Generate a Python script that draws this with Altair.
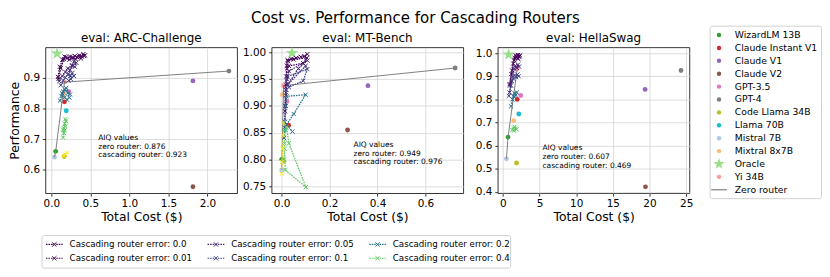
import altair as alt
import pandas as pd

# ---------------- data ----------------
MODELS = ["WizardLM 13B", "Claude Instant V1", "Claude V1", "Claude V2", "GPT-3.5", "GPT-4",
          "Code Llama 34B", "Llama 70B", "Mistral 7B", "Mixtral 8x7B", "Yi 34B"]
MODEL_COLORS = ["#2ca02c", "#d62728", "#9467bd", "#8c564b", "#e377c2", "#7f7f7f",
                "#bcbd22", "#17becf", "#aec7e8", "#ffbb78", "#ff9896"]
ORACLE_COLOR = "#98df8a"
ZERO_COLOR = "#7f7f7f"

ERRORS = ["0.0", "0.01", "0.05", "0.1", "0.2", "0.4", "0.8"]
ERROR_COLORS = ["#440154", "#46085c", "#482878", "#414487", "#2c728e", "#5ec962", "#fde725"]
LEGEND_ERRORS = ["0.0", "0.01", "0.05", "0.1", "0.2", "0.4"]

# ARC-Challenge
ARC_COST = [0.055, 0.168, 1.814, 1.814, 0.224, 2.275, 0.165, 0.19, 0.04, 0.16, 0.168]
ARC_PERF = [0.66, 0.821, 0.889, 0.545, 0.854, 0.921, 0.643, 0.792, 0.641, 0.848, 0.885]
ARC_ORACLE = [0.072, 0.978]
ARC_ZERO_COST = [0.04, 0.055, 0.168, 2.275]
ARC_ZERO_PERF = [0.641, 0.66, 0.885, 0.921]
ARC_AIQ = ["0.876", "0.923"]
ARC_E00 = [(0.085, 0.902), (0.11, 0.935), (0.14, 0.958), (0.17, 0.968), (0.20, 0.962), (0.24, 0.968),
           (0.27, 0.963), (0.30, 0.970), (0.33, 0.966), (0.36, 0.972), (0.39, 0.968), (0.41, 0.976), (0.43, 0.972)]
ARC_E01 = [(0.09, 0.895), (0.12, 0.93), (0.16, 0.96), (0.19, 0.966), (0.23, 0.958), (0.27, 0.966),
           (0.31, 0.960), (0.35, 0.968), (0.38, 0.962), (0.42, 0.970)]
ARC_E05 = [(0.10, 0.888), (0.14, 0.905), (0.18, 0.918), (0.21, 0.93), (0.24, 0.925), (0.27, 0.94),
           (0.30, 0.935), (0.32, 0.948), (0.29, 0.952), (0.26, 0.938), (0.22, 0.912)]
ARC_E10 = [(0.12, 0.875), (0.15, 0.89), (0.18, 0.90), (0.21, 0.91), (0.24, 0.905), (0.27, 0.915),
           (0.25, 0.895), (0.22, 0.89), (0.29, 0.905)]
ARC_E20 = [(0.11, 0.825), (0.13, 0.84), (0.15, 0.855), (0.18, 0.86), (0.21, 0.85), (0.23, 0.835),
           (0.20, 0.828), (0.17, 0.835), (0.14, 0.848), (0.19, 0.866), (0.24, 0.845)]
ARC_E40 = [(0.15, 0.705), (0.16, 0.72), (0.17, 0.728), (0.16, 0.735), (0.18, 0.742), (0.17, 0.75),
           (0.19, 0.758), (0.18, 0.765), (0.15, 0.73)]
ARC_E80 = [(0.16, 0.645), (0.18, 0.65), (0.20, 0.656)]

# MT-Bench
MT_COST = [0.0, 0.029, 0.36, 0.275, 0.022, 0.724, 0.008, 0.012, 0.0, 0.003, 0.008]
MT_PERF = [0.80, 0.864, 0.938, 0.855, 0.909, 0.971, 0.797, 0.855, 0.78, 0.921, 0.938]
MT_ORACLE = [0.043, 0.999]
MT_ZERO_COST = [0.0, 0.008, 0.724]
MT_ZERO_PERF = [0.78, 0.938, 0.971]
MT_AIQ = ["0.949", "0.976"]
MT_E00 = [(0.015, 0.90), (0.017, 0.93), (0.019, 0.955), (0.021, 0.975), (0.024, 0.986), (0.04, 0.988),
          (0.06, 0.99), (0.08, 0.992), (0.095, 0.993), (0.107, 0.997)]
MT_E01 = [(0.014, 0.89), (0.018, 0.94), (0.022, 0.97), (0.026, 0.984), (0.05, 0.987), (0.105, 0.99),
          (0.09, 0.98), (0.03, 0.975)]
MT_E05 = [(0.013, 0.87), (0.017, 0.92), (0.022, 0.95), (0.03, 0.965), (0.107, 0.985), (0.07, 0.97),
          (0.025, 0.94), (0.10, 0.975)]
MT_E10 = [(0.012, 0.86), (0.016, 0.90), (0.02, 0.93), (0.024, 0.955), (0.107, 0.969), (0.09, 0.947),
          (0.03, 0.935)]
MT_E20 = [(0.01, 0.84), (0.014, 0.87), (0.018, 0.90), (0.02, 0.918), (0.10, 0.921), (0.05, 0.885),
          (0.02, 0.865), (0.045, 0.852)]
MT_E40 = [(0.01, 0.80), (0.012, 0.83), (0.016, 0.855), (0.02, 0.86), (0.03, 0.83), (0.101, 0.748),
          (0.015, 0.78), (0.012, 0.82)]
MT_E80 = [(0.0, 0.773), (0.002, 0.795), (0.004, 0.82), (0.006, 0.845), (0.008, 0.868)]

# HellaSwag
HS_COST = [0.7, 1.95, 19.4, 19.45, 2.44, 24.3, 1.86, 2.17, 0.48, 1.46, 1.96]
HS_PERF = [0.637, 0.80, 0.843, 0.422, 0.817, 0.925, 0.525, 0.737, 0.543, 0.708, 0.933]
HS_ORACLE = [0.78, 0.994]
HS_ZERO_COST = [0.48, 0.7, 1.96]
HS_ZERO_PERF = [0.543, 0.637, 0.933]
HS_AIQ = ["0.607", "0.469"]
HS_E00 = [(0.92, 0.866), (1.15, 0.91), (1.4, 0.955), (1.6, 0.98), (1.75, 0.99), (1.9, 0.985),
          (2.05, 0.992), (2.2, 0.986), (2.35, 0.99)]
HS_E01 = [(0.95, 0.86), (1.25, 0.925), (1.55, 0.97), (1.8, 0.984), (2.0, 0.978), (2.2, 0.985), (2.1, 0.975)]
HS_E05 = [(0.9, 0.83), (1.2, 0.88), (1.5, 0.93), (1.7, 0.945), (1.9, 0.936), (2.05, 0.95), (2.2, 0.942)]
HS_E10 = [(0.8, 0.815), (1.1, 0.86), (1.4, 0.89), (1.6, 0.905), (1.8, 0.896), (2.0, 0.908), (2.15, 0.9)]
HS_E20 = [(1.1, 0.77), (1.3, 0.80), (1.45, 0.815), (1.6, 0.826), (1.75, 0.818), (1.9, 0.83), (1.55, 0.81)]
HS_E40 = [(1.3, 0.668), (1.45, 0.676), (1.6, 0.682), (1.75, 0.674), (1.85, 0.67), (1.5, 0.665)]

XPATH = "M-1,-1L1,1M1,-1L-1,1"
STAR = ("M0,-1L0.2245,-0.309L0.951,-0.309L0.363,0.118L0.588,0.809L0,0.382"
        "L-0.588,0.809L-0.363,0.118L-0.951,-0.309L-0.2245,-0.309Z")
FONT = "DejaVu Sans"

STROKE_ERR = alt.Stroke("err:N", scale=alt.Scale(domain=ERRORS, range=ERROR_COLORS), legend=None)
FILL_MODEL = alt.Fill("model:N", scale=alt.Scale(domain=MODELS, range=MODEL_COLORS), legend=None)


def cascade_df(series):
    rows = []
    for err, pts in series:
        for i, (x, y) in enumerate(pts):
            rows.append({"err": err, "i": i, "x": x, "y": y})
    return pd.DataFrame(rows)


def panel(title, cost, perf, oracle, zx, zy, series, aiq, ann_xy, xdom, ydom,
          xticks, yticks, xfmt, yfmt, ytitle):
    xs = alt.Scale(domain=xdom, nice=False, zero=False)
    ys = alt.Scale(domain=ydom, nice=False, zero=False)
    X = alt.X("x:Q", scale=xs, axis=alt.Axis(values=xticks, format=xfmt), title="Total Cost ($)")
    if ytitle:
        Y = alt.Y("y:Q", scale=ys, axis=alt.Axis(values=yticks, format=yfmt), title=ytitle)
    else:
        Y = alt.Y("y:Q", scale=ys, axis=alt.Axis(values=yticks, format=yfmt), title=None)

    mdf = pd.DataFrame({"model": MODELS, "x": cost, "y": perf})
    models = alt.Chart(mdf).mark_circle(size=24, opacity=1).encode(x=X, y=Y, fill=FILL_MODEL)
    zdf = pd.DataFrame({"x": zx, "y": zy, "i": list(range(len(zx)))})
    zero = alt.Chart(zdf).mark_line(color=ZERO_COLOR, strokeWidth=1).encode(x=X, y=Y, order="i:Q")
    odf = pd.DataFrame({"x": [oracle[0]], "y": [oracle[1]]})
    star = alt.Chart(odf).mark_point(shape=STAR, size=170, filled=True, color=ORACLE_COLOR,
                                     opacity=1).encode(x=X, y=Y)
    cdf = cascade_df(series)
    lines = alt.Chart(cdf).mark_line(strokeWidth=1.3, strokeDash=[1.6, 1]).encode(
        x=X, y=Y, stroke=STROKE_ERR, detail="err:N", order="i:Q")
    pts = alt.Chart(cdf).mark_point(shape=XPATH, size=18, strokeWidth=1, opacity=1).encode(
        x=X, y=Y, stroke=STROKE_ERR)
    adf = pd.DataFrame({"x": [ann_xy[0]], "y": [ann_xy[1]],
                        "t": [f"AIQ values\nzero router: {aiq[0]}\ncascading router: {aiq[1]}"]})
    ann = alt.Chart(adf).mark_text(align="left", baseline="top", lineBreak="\n", fontSize=7.6,
                                   lineHeight=8.7, font=FONT, color="black").encode(x=X, y=Y, text="t:N")
    return alt.layer(models, zero, star, lines, pts, ann).properties(
        width=194.5, height=148,
        title=alt.TitleParams(title, fontSize=12.1, font=FONT, fontWeight="normal", color="black", offset=3),
        view=alt.ViewBackground(stroke="black", strokeWidth=0.8, strokeOpacity=1),
    )


p1 = panel("eval: ARC-Challenge", ARC_COST, ARC_PERF, ARC_ORACLE, ARC_ZERO_COST, ARC_ZERO_PERF,
           [("0.0", ARC_E00), ("0.01", ARC_E01), ("0.05", ARC_E05), ("0.1", ARC_E10),
            ("0.2", ARC_E20), ("0.4", ARC_E40), ("0.8", ARC_E80)],
           ARC_AIQ, (0.6, 0.716), [-0.076, 2.38], [0.524, 0.998],
           [0, 0.5, 1.0, 1.5, 2.0], [0.6, 0.7, 0.8, 0.9], ".1f", ".1f", "Performance")
p2 = panel("eval: MT-Bench", MT_COST, MT_PERF, MT_ORACLE, MT_ZERO_COST, MT_ZERO_PERF,
           [("0.0", MT_E00), ("0.01", MT_E01), ("0.05", MT_E05), ("0.1", MT_E10),
            ("0.2", MT_E20), ("0.4", MT_E40), ("0.8", MT_E80)],
           MT_AIQ, (0.3, 0.834), [-0.042, 0.758], [0.7366, 1.0097],
           [0, 0.2, 0.4, 0.6], [0.75, 0.80, 0.85, 0.90, 0.95, 1.00], ".1f", ".2f", None)
p3 = panel("eval: HellaSwag", HS_COST, HS_PERF, HS_ORACLE, HS_ZERO_COST, HS_ZERO_PERF,
           [("0.0", HS_E00), ("0.01", HS_E01), ("0.05", HS_E05), ("0.1", HS_E10),
            ("0.2", HS_E20), ("0.4", HS_E40)],
           HS_AIQ, (5.4, 0.605), [-0.7, 25.45], [0.3945, 1.025],
           [0, 5, 10, 15, 20, 25], [0.4, 0.5, 0.6, 0.7, 0.8, 0.9, 1.0], ".0f", ".1f", None)

# ---------------- right legend ----------------
LEG_ITEMS = MODELS[:10] + ["Oracle", "Yi 34B", "Zero router"]
ldf = pd.DataFrame({"model": LEG_ITEMS, "row": list(range(len(LEG_ITEMS)))})
LY = alt.Y("row:Q", scale=alt.Scale(domain=[0, 12], range=[-12.5, 144.5]), axis=None)
box_r = alt.Chart(pd.DataFrame({"a": [0]})).mark_rect(
    fill="white", stroke="#d0d0d0", strokeWidth=1, cornerRadius=2).encode(
    x=alt.value(-14), x2=alt.value(99), y=alt.value(-21.5), y2=alt.value(153.5))
leg_c = alt.Chart(ldf[ldf["model"].isin(MODELS)]).mark_circle(size=20, opacity=1).encode(
    x=alt.value(-5), y=LY, fill=FILL_MODEL)
leg_s = alt.Chart(ldf[ldf["model"] == "Oracle"]).mark_point(
    shape=STAR, filled=True, size=150, color=ORACLE_COLOR, opacity=1).encode(x=alt.value(-5), y=LY)
leg_z = alt.Chart(ldf[ldf["model"] == "Zero router"]).mark_rule(color=ZERO_COLOR, strokeWidth=1.2).encode(
    x=alt.value(-13), x2=alt.value(3), y=LY)
leg_t = alt.Chart(ldf).mark_text(align="left", baseline="middle", fontSize=9.4, font=FONT,
                                 color="black").encode(x=alt.value(11), y=LY, text="model:N")
legend_right = alt.layer(box_r, leg_c, leg_s, leg_z, leg_t).properties(width=95, height=148)

# ---------------- bottom legend ----------------
bdf = pd.DataFrame({"err": LEGEND_ERRORS, "col": [0, 0, 1, 1, 2, 2], "row": [0, 1, 0, 1, 0, 1]})
bdf["label"] = "Cascading router error: " + bdf["err"]
bdf["tx"] = 24.5 + 164 * bdf["col"]
bdf["lx1"] = 0.5 + 164 * bdf["col"]
bdf["lx2"] = 17.5 + 164 * bdf["col"]
bdf["mx"] = 9 + 164 * bdf["col"]
bdf["ly"] = 9 + 14 * bdf["row"]
BXS = alt.Scale(domain=[0, 475], range=[0, 475])
BYS = alt.Scale(domain=[0, 33], range=[0, 33])
box_b = alt.Chart(pd.DataFrame({"a": [0]})).mark_rect(
    fill="white", stroke="#d0d0d0", strokeWidth=1, cornerRadius=2).encode(
    x=alt.value(-3.5), x2=alt.value(472), y=alt.value(0), y2=alt.value(33))
b_lines = alt.Chart(bdf).mark_rule(strokeDash=[1.6, 1], strokeWidth=1.2).encode(
    x=alt.X("lx1:Q", scale=BXS, axis=None), x2="lx2:Q",
    y=alt.Y("ly:Q", scale=BYS, axis=None), stroke=STROKE_ERR)
b_marks = alt.Chart(bdf).mark_point(shape=XPATH, size=18, strokeWidth=1, opacity=1).encode(
    x=alt.X("mx:Q", scale=BXS, axis=None), y=alt.Y("ly:Q", scale=BYS, axis=None), stroke=STROKE_ERR)
b_text = alt.Chart(bdf).mark_text(align="left", baseline="middle", fontSize=8.8, font=FONT,
                                  color="black").encode(
    x=alt.X("tx:Q", scale=BXS, axis=None), y=alt.Y("ly:Q", scale=BYS, axis=None), text="label:N")
legend_bottom = alt.layer(box_b, b_lines, b_marks, b_text).properties(width=470, height=33)

row = alt.hconcat(p1, p2, p3, legend_right, spacing=34.5, bounds="flush")
chart = alt.vconcat(row, legend_bottom, spacing=11).properties(
    title=alt.TitleParams("Cost vs. Performance for Cascading Routers", fontSize=15.2, font=FONT,
                          fontWeight="normal", color="black", anchor="middle", offset=0),
    padding=0,
).configure_view(strokeOpacity=0).configure_axis(
    labelFont=FONT, labelFontSize=10.6, labelColor="black",
    titleFont=FONT, titleFontSize=12.5, titleFontWeight="normal", titleColor="black",
    tickSize=3, tickColor="black", tickWidth=0.8, domain=False,
    grid=True, gridColor="#d4d4d4", gridWidth=0.8,
    labelPadding=3, titlePadding=1, labelFlush=False, labelOverlap=False,
)

chart.save("out.html", embed_options={"renderer": "svg", "actions": False})
